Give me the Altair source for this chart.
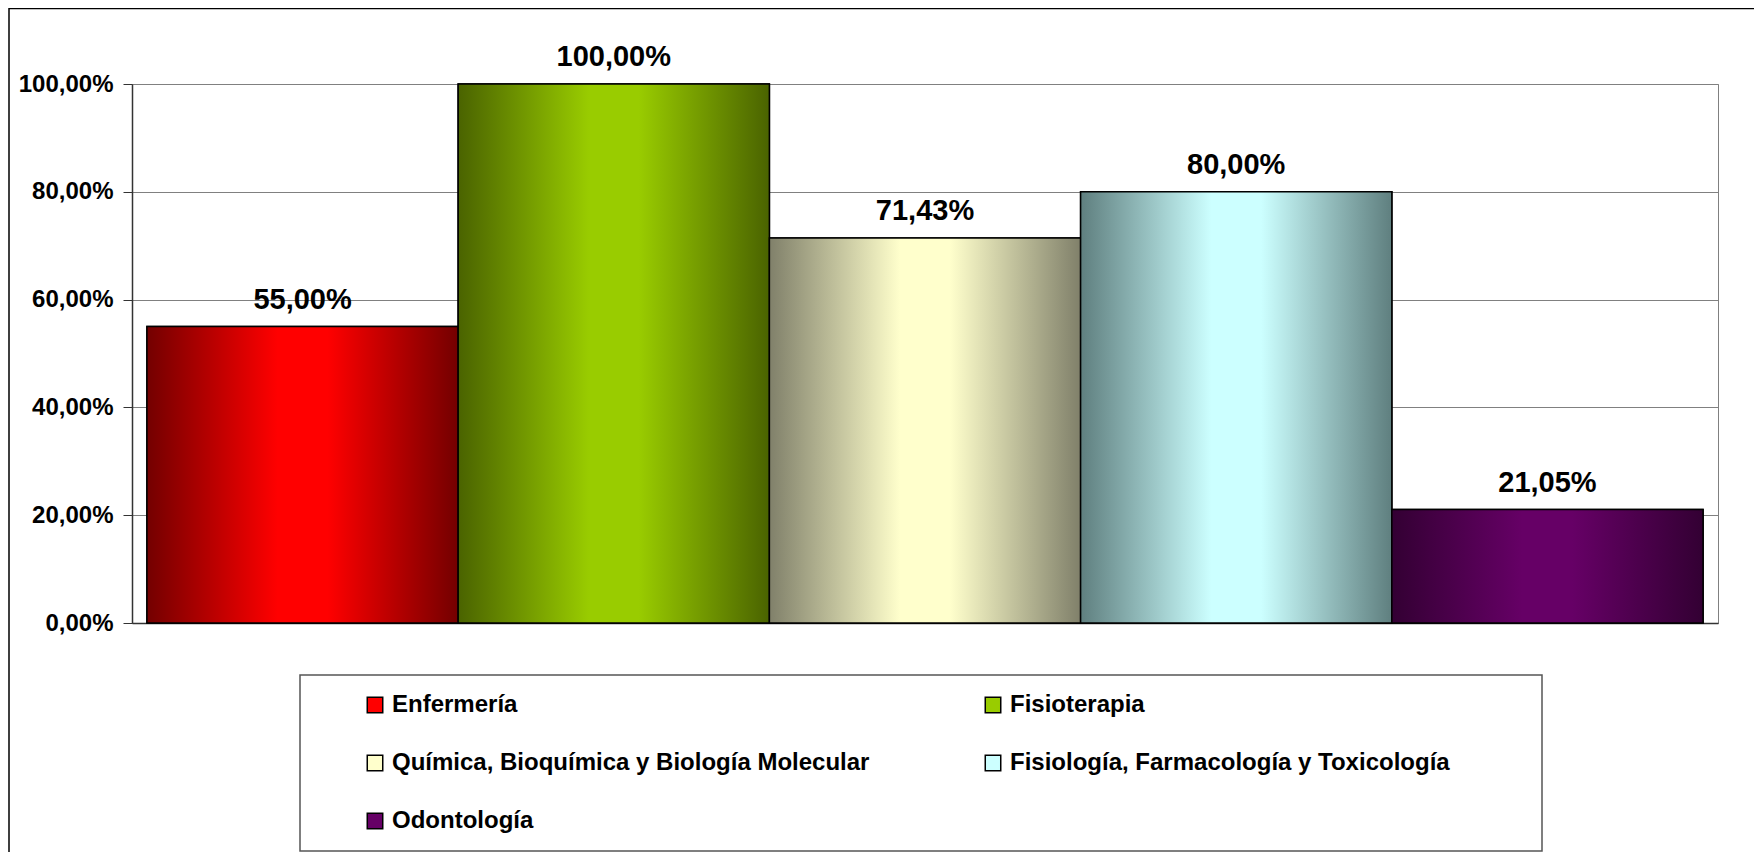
import altair as alt
import pandas as pd

categories = [
    "Enfermería",
    "Fisioterapia",
    "Química, Bioquímica y Biología Molecular",
    "Fisiología, Farmacología y Toxicología",
    "Odontología",
]
values = [0.55, 1.00, 0.7143, 0.80, 0.2105]
base_colors = ["#ff0000", "#99cc00", "#ffffcc", "#ccffff", "#660066"]
edge_colors = ["#730000", "#4a6300", "#80806a", "#5f7f7f", "#330033"]
y_ticks = [0, 0.2, 0.4, 0.6, 0.8, 1.0]

df = pd.DataFrame({"cat": categories, "val": values})

W, H = 1586, 539
FONT = "Liberation Sans"

x_scale = alt.Scale(domain=categories, paddingInner=0, paddingOuter=0.048)
y_scale = alt.Scale(domain=[0, 1], nice=False)

x_axis = alt.X("cat:N", sort=categories, scale=x_scale,
               axis=alt.Axis(title=None, labels=False, ticks=False,
                             domainColor="#333", domainWidth=1.5))
y_axis = alt.Y("val:Q", scale=y_scale,
               axis=alt.Axis(title=None, values=y_ticks,
                             labelExpr="replace(format(datum.value, '.2%'), '.', ',')",
                             labelFont=FONT, labelFontSize=24, labelFontWeight="bold",
                             labelColor="#000", labelPadding=10, tickSize=9,
                             tickColor="#333", domainColor="#333", domainWidth=1.5,
                             grid=True, gridColor="#808080", gridWidth=1))

frame = alt.Chart(pd.DataFrame({"d": [0]})).mark_rect(
    fill="transparent", stroke="#000", strokeWidth=1.5
).encode(x=alt.value(-123), x2=alt.value(1700), y=alt.value(-75.5), y2=alt.value(800))

base = alt.Chart(df).mark_bar(stroke="#000", strokeWidth=1.5).encode(
    x=x_axis,
    y=y_axis,
    color=alt.Color(
        "cat:N", sort=categories,
        scale=alt.Scale(domain=categories, range=base_colors),
        legend=alt.Legend(
            title=None, orient="none", legendX=231, legendY=609,
            direction="horizontal",
            columns=2, columnPadding=111, rowPadding=34,
            symbolType="square", symbolSize=240, symbolStrokeColor="#000",
            symbolStrokeWidth=1.5, symbolOpacity=1,
            labelFont=FONT, labelFontSize=24, labelFontWeight="bold",
            labelColor="#000", labelLimit=0, labelOffset=5, padding=0,
        ),
    ),
)

grad_layers = []
for cat, light, dark in zip(categories, base_colors, edge_colors):
    grad = alt.Gradient(
        gradient="linear",
        stops=[
            alt.GradientStop(color=dark, offset=0),
            alt.GradientStop(color=light, offset=0.42),
            alt.GradientStop(color=light, offset=0.58),
            alt.GradientStop(color=dark, offset=1),
        ],
        x1=0, x2=1, y1=0, y2=0,
    )
    grad_layers.append(
        alt.Chart(df).transform_filter(alt.datum.cat == cat)
        .mark_bar(fill=grad, stroke="#000", strokeWidth=1.5)
        .encode(x=x_axis, y=y_axis)
    )

labels = alt.Chart(df).transform_calculate(
    label="replace(format(datum.val, '.2%'), '.', ',')"
).mark_text(
    font=FONT, fontSize=29, fontWeight="bold", baseline="alphabetic",
    dy=-18, color="#000"
).encode(x=x_axis, y=y_axis, text="label:N")

legend_box = alt.Chart(pd.DataFrame({"d": [0]})).mark_rect(
    fill="transparent", stroke="#555", strokeWidth=1.5
).encode(x=alt.value(168), x2=alt.value(1410), y=alt.value(591), y2=alt.value(767))

chart = alt.layer(frame, base, *grad_layers, labels, legend_box).properties(
    width=W, height=H,
    autosize=alt.AutoSizeParams(type="none"),
    padding={"left": 124, "top": 76, "right": 36, "bottom": 229},
).configure_view(stroke="#808080", strokeWidth=1)

chart.save("out.html", embed_options={"renderer": "svg", "actions": False})
